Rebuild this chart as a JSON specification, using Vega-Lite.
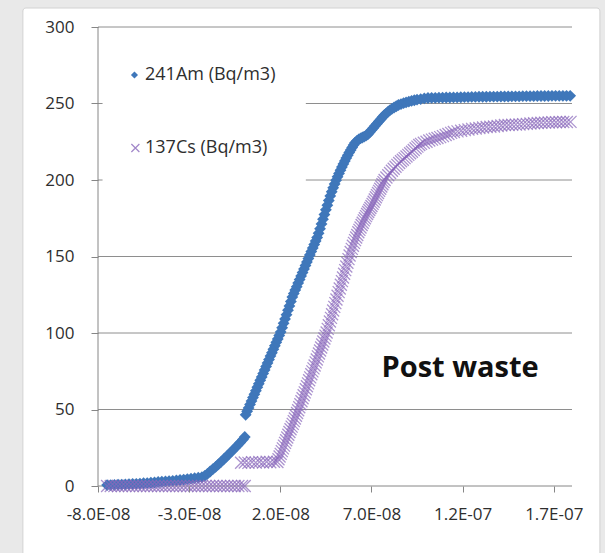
{
  "$schema": "https://vega.github.io/schema/vega-lite/v6.json",
  "width": 474,
  "height": 459,
  "autosize": {"type": "none"},
  "padding": {"left": 98, "top": 27, "right": 33, "bottom": 67},
  "background": "#e9e9e9",
  "config": {
    "view": {"stroke": null},
    "font": "Open Sans",
    "axis": {
      "domain": false,
      "grid": false,
      "tickColor": "#868686",
      "tickWidth": 1,
      "labelFont": "Open Sans",
      "labelFontSize": 17,
      "labelColor": "#2e2e2e",
      "labelFlush": false,
      "labelOverlap": false
    }
  },
  "datasets": {
    "am": [
      {"x": -7.5e-8, "y": 0.6}, {"x": -7.3e-8, "y": 0.6}, {"x": -7.1e-8, "y": 0.7}, {"x": -6.9e-8, "y": 0.8},
      {"x": -6.7e-8, "y": 0.9}, {"x": -6.5e-8, "y": 1.0}, {"x": -6.3e-8, "y": 1.2}, {"x": -6.1e-8, "y": 1.3},
      {"x": -5.9e-8, "y": 1.4}, {"x": -5.7e-8, "y": 1.6}, {"x": -5.5e-8, "y": 1.8}, {"x": -5.3e-8, "y": 1.9},
      {"x": -5.1e-8, "y": 2.1}, {"x": -4.9e-8, "y": 2.3}, {"x": -4.7e-8, "y": 2.6}, {"x": -4.5e-8, "y": 2.8},
      {"x": -4.3e-8, "y": 3.0}, {"x": -4.1e-8, "y": 3.2}, {"x": -3.9e-8, "y": 3.4}, {"x": -3.7e-8, "y": 3.6},
      {"x": -3.5e-8, "y": 3.9}, {"x": -3.3e-8, "y": 4.2}, {"x": -3.1e-8, "y": 4.5}, {"x": -2.9e-8, "y": 4.8},
      {"x": -2.7e-8, "y": 5.1}, {"x": -2.5e-8, "y": 5.4}, {"x": -2.3e-8, "y": 5.8}, {"x": -2.15e-8, "y": 6.6},
      {"x": -2.0e-8, "y": 7.9}, {"x": -1.85e-8, "y": 9.5}, {"x": -1.7e-8, "y": 11.0}, {"x": -1.55e-8, "y": 12.5},
      {"x": -1.4e-8, "y": 14.1}, {"x": -1.25e-8, "y": 15.8}, {"x": -1.1e-8, "y": 17.5}, {"x": -0.95e-8, "y": 19.2},
      {"x": -0.8e-8, "y": 21.0}, {"x": -0.65e-8, "y": 22.8}, {"x": -0.5e-8, "y": 24.6}, {"x": -0.35e-8, "y": 26.5},
      {"x": -0.2e-8, "y": 28.4}, {"x": -0.05e-8, "y": 30.4}, {"x": 0.05e-8, "y": 32.0},
      {"x": 0.10e-8, "y": 46.5}, {"x": 0.18e-8, "y": 48.8}, {"x": 0.26e-8, "y": 51.0}, {"x": 0.34e-8, "y": 53.3},
      {"x": 0.42e-8, "y": 55.5}, {"x": 0.50e-8, "y": 57.8}, {"x": 0.58e-8, "y": 60.0}, {"x": 0.66e-8, "y": 62.3},
      {"x": 0.74e-8, "y": 64.6}, {"x": 0.82e-8, "y": 66.8}, {"x": 0.90e-8, "y": 69.1}, {"x": 0.98e-8, "y": 71.3},
      {"x": 1.06e-8, "y": 73.6}, {"x": 1.14e-8, "y": 75.8}, {"x": 1.22e-8, "y": 78.1}, {"x": 1.30e-8, "y": 80.4},
      {"x": 1.38e-8, "y": 82.6}, {"x": 1.46e-8, "y": 84.9}, {"x": 1.54e-8, "y": 87.1}, {"x": 1.62e-8, "y": 89.4},
      {"x": 1.70e-8, "y": 91.6}, {"x": 1.78e-8, "y": 93.9}, {"x": 1.86e-8, "y": 96.1}, {"x": 1.94e-8, "y": 98.4},
      {"x": 2.02e-8, "y": 100.6}, {"x": 2.10e-8, "y": 103.5}, {"x": 2.18e-8, "y": 106.3}, {"x": 2.26e-8, "y": 109.2},
      {"x": 2.34e-8, "y": 112.0}, {"x": 2.42e-8, "y": 114.9}, {"x": 2.50e-8, "y": 117.7}, {"x": 2.58e-8, "y": 120.6},
      {"x": 2.66e-8, "y": 123.5}, {"x": 2.74e-8, "y": 125.8}, {"x": 2.82e-8, "y": 128.1}, {"x": 2.90e-8, "y": 130.3},
      {"x": 2.98e-8, "y": 132.6}, {"x": 3.06e-8, "y": 134.9}, {"x": 3.14e-8, "y": 137.2}, {"x": 3.22e-8, "y": 139.5},
      {"x": 3.30e-8, "y": 141.8}, {"x": 3.38e-8, "y": 144.1}, {"x": 3.46e-8, "y": 146.4}, {"x": 3.54e-8, "y": 148.7},
      {"x": 3.62e-8, "y": 151.0}, {"x": 3.70e-8, "y": 153.3}, {"x": 3.78e-8, "y": 155.5}, {"x": 3.86e-8, "y": 157.8},
      {"x": 3.94e-8, "y": 160.1}, {"x": 4.02e-8, "y": 162.4}, {"x": 4.10e-8, "y": 165.2}, {"x": 4.18e-8, "y": 168.2},
      {"x": 4.26e-8, "y": 171.3}, {"x": 4.34e-8, "y": 174.4}, {"x": 4.42e-8, "y": 177.4}, {"x": 4.50e-8, "y": 180.5},
      {"x": 4.58e-8, "y": 183.5}, {"x": 4.66e-8, "y": 186.6}, {"x": 4.74e-8, "y": 189.6}, {"x": 4.82e-8, "y": 192.3},
      {"x": 4.90e-8, "y": 194.9}, {"x": 4.98e-8, "y": 197.4}, {"x": 5.06e-8, "y": 199.8}, {"x": 5.14e-8, "y": 202.1},
      {"x": 5.22e-8, "y": 204.3}, {"x": 5.30e-8, "y": 206.4}, {"x": 5.38e-8, "y": 208.5}, {"x": 5.46e-8, "y": 210.5},
      {"x": 5.54e-8, "y": 212.4}, {"x": 5.62e-8, "y": 214.3}, {"x": 5.70e-8, "y": 216.1}, {"x": 5.78e-8, "y": 217.9},
      {"x": 5.86e-8, "y": 219.6}, {"x": 5.94e-8, "y": 221.3}, {"x": 6.02e-8, "y": 222.9}, {"x": 6.10e-8, "y": 224.4},
      {"x": 6.20e-8, "y": 225.5}, {"x": 6.30e-8, "y": 226.5}, {"x": 6.40e-8, "y": 227.2}, {"x": 6.50e-8, "y": 227.8},
      {"x": 6.60e-8, "y": 228.4}, {"x": 6.70e-8, "y": 229.0}, {"x": 6.80e-8, "y": 229.8}, {"x": 6.90e-8, "y": 231.2},
      {"x": 7.00e-8, "y": 232.6}, {"x": 7.10e-8, "y": 234.0}, {"x": 7.20e-8, "y": 235.4}, {"x": 7.30e-8, "y": 236.8},
      {"x": 7.40e-8, "y": 238.2}, {"x": 7.50e-8, "y": 239.6}, {"x": 7.60e-8, "y": 241.0}, {"x": 7.70e-8, "y": 242.3},
      {"x": 7.80e-8, "y": 243.4}, {"x": 7.90e-8, "y": 244.5}, {"x": 8.00e-8, "y": 245.5}, {"x": 8.12e-8, "y": 246.5},
      {"x": 8.24e-8, "y": 247.4}, {"x": 8.36e-8, "y": 248.2}, {"x": 8.48e-8, "y": 249.0}, {"x": 8.62e-8, "y": 249.6},
      {"x": 8.76e-8, "y": 250.2}, {"x": 8.90e-8, "y": 250.7}, {"x": 9.05e-8, "y": 251.2}, {"x": 9.20e-8, "y": 251.7},
      {"x": 9.35e-8, "y": 252.1}, {"x": 9.50e-8, "y": 252.5}, {"x": 9.70e-8, "y": 252.9}, {"x": 9.90e-8, "y": 253.3},
      {"x": 10.1e-8, "y": 253.6}, {"x": 10.3e-8, "y": 253.7}, {"x": 10.5e-8, "y": 253.7}, {"x": 10.7e-8, "y": 253.8},
      {"x": 10.9e-8, "y": 253.8}, {"x": 11.1e-8, "y": 253.9}, {"x": 11.3e-8, "y": 253.9}, {"x": 11.5e-8, "y": 254.0},
      {"x": 11.7e-8, "y": 254.0}, {"x": 11.9e-8, "y": 254.1}, {"x": 12.1e-8, "y": 254.2}, {"x": 12.3e-8, "y": 254.2},
      {"x": 12.5e-8, "y": 254.3}, {"x": 12.7e-8, "y": 254.3}, {"x": 12.9e-8, "y": 254.4}, {"x": 13.1e-8, "y": 254.4},
      {"x": 13.3e-8, "y": 254.4}, {"x": 13.5e-8, "y": 254.5}, {"x": 13.7e-8, "y": 254.5}, {"x": 13.9e-8, "y": 254.5},
      {"x": 14.1e-8, "y": 254.6}, {"x": 14.3e-8, "y": 254.6}, {"x": 14.5e-8, "y": 254.6}, {"x": 14.7e-8, "y": 254.7},
      {"x": 14.9e-8, "y": 254.7}, {"x": 15.1e-8, "y": 254.7}, {"x": 15.3e-8, "y": 254.8}, {"x": 15.5e-8, "y": 254.8},
      {"x": 15.7e-8, "y": 254.8}, {"x": 15.9e-8, "y": 254.8}, {"x": 16.1e-8, "y": 254.9}, {"x": 16.3e-8, "y": 254.9},
      {"x": 16.5e-8, "y": 254.9}, {"x": 16.7e-8, "y": 254.9}, {"x": 16.9e-8, "y": 255.0}, {"x": 17.1e-8, "y": 255.0},
      {"x": 17.3e-8, "y": 255.0}, {"x": 17.5e-8, "y": 255.0}, {"x": 17.7e-8, "y": 255.0}, {"x": 17.9e-8, "y": 255.0}
    ],
    "cs": [
      {"x": -7.5e-8, "y": 0}, {"x": -7.3e-8, "y": 0}, {"x": -7.1e-8, "y": 0}, {"x": -6.9e-8, "y": 0},
      {"x": -6.7e-8, "y": 0}, {"x": -6.5e-8, "y": 0}, {"x": -6.3e-8, "y": 0}, {"x": -6.1e-8, "y": 0},
      {"x": -5.9e-8, "y": 0}, {"x": -5.7e-8, "y": 0}, {"x": -5.5e-8, "y": 0}, {"x": -5.3e-8, "y": 0},
      {"x": -5.1e-8, "y": 0}, {"x": -4.9e-8, "y": 0}, {"x": -4.7e-8, "y": 0}, {"x": -4.5e-8, "y": 0},
      {"x": -4.3e-8, "y": 0}, {"x": -4.1e-8, "y": 0}, {"x": -3.9e-8, "y": 0}, {"x": -3.7e-8, "y": 0},
      {"x": -3.5e-8, "y": 0}, {"x": -3.3e-8, "y": 0}, {"x": -3.1e-8, "y": 0}, {"x": -2.9e-8, "y": 0},
      {"x": -2.7e-8, "y": 0}, {"x": -2.5e-8, "y": 0}, {"x": -2.3e-8, "y": 0}, {"x": -2.1e-8, "y": 0},
      {"x": -1.9e-8, "y": 0}, {"x": -1.7e-8, "y": 0}, {"x": -1.5e-8, "y": 0}, {"x": -1.3e-8, "y": 0},
      {"x": -1.1e-8, "y": 0}, {"x": -0.9e-8, "y": 0}, {"x": -0.7e-8, "y": 0}, {"x": -0.5e-8, "y": 0},
      {"x": -0.3e-8, "y": 0}, {"x": -0.1e-8, "y": 0}, {"x": 0.05e-8, "y": 0},
      {"x": -0.15e-8, "y": 15.2}, {"x": 0.05e-8, "y": 15.4}, {"x": 0.25e-8, "y": 15.1}, {"x": 0.45e-8, "y": 15.6},
      {"x": 0.65e-8, "y": 15.3}, {"x": 0.85e-8, "y": 15.7}, {"x": 1.05e-8, "y": 15.4}, {"x": 1.25e-8, "y": 15.8},
      {"x": 1.45e-8, "y": 15.5}, {"x": 1.65e-8, "y": 15.9},
      {"x": 1.84e-8, "y": 15.7}, {"x": 1.90e-8, "y": 17.5}, {"x": 1.96e-8, "y": 19.3}, {"x": 2.02e-8, "y": 21.0},
      {"x": 2.08e-8, "y": 22.8}, {"x": 2.14e-8, "y": 24.6}, {"x": 2.20e-8, "y": 26.4}, {"x": 2.26e-8, "y": 28.2},
      {"x": 2.32e-8, "y": 29.9}, {"x": 2.38e-8, "y": 31.7}, {"x": 2.44e-8, "y": 33.5}, {"x": 2.50e-8, "y": 35.3},
      {"x": 2.56e-8, "y": 37.1}, {"x": 2.62e-8, "y": 38.8}, {"x": 2.68e-8, "y": 40.6}, {"x": 2.74e-8, "y": 42.4},
      {"x": 2.80e-8, "y": 44.1}, {"x": 2.86e-8, "y": 45.9}, {"x": 2.92e-8, "y": 47.7}, {"x": 2.98e-8, "y": 49.5},
      {"x": 3.04e-8, "y": 51.5}, {"x": 3.10e-8, "y": 53.4}, {"x": 3.16e-8, "y": 55.4}, {"x": 3.22e-8, "y": 57.3},
      {"x": 3.28e-8, "y": 59.3}, {"x": 3.34e-8, "y": 61.2}, {"x": 3.40e-8, "y": 63.2}, {"x": 3.46e-8, "y": 65.2},
      {"x": 3.52e-8, "y": 67.1}, {"x": 3.58e-8, "y": 69.1}, {"x": 3.64e-8, "y": 71.0}, {"x": 3.70e-8, "y": 73.0},
      {"x": 3.76e-8, "y": 74.9}, {"x": 3.82e-8, "y": 76.9}, {"x": 3.88e-8, "y": 78.8}, {"x": 3.94e-8, "y": 80.8},
      {"x": 4.00e-8, "y": 82.7}, {"x": 4.06e-8, "y": 84.7}, {"x": 4.12e-8, "y": 86.6}, {"x": 4.18e-8, "y": 88.6},
      {"x": 4.24e-8, "y": 90.5}, {"x": 4.30e-8, "y": 92.5}, {"x": 4.36e-8, "y": 94.4}, {"x": 4.42e-8, "y": 96.4},
      {"x": 4.48e-8, "y": 98.3}, {"x": 4.54e-8, "y": 100.3}, {"x": 4.60e-8, "y": 102.7}, {"x": 4.66e-8, "y": 105.1},
      {"x": 4.72e-8, "y": 107.5}, {"x": 4.78e-8, "y": 109.9}, {"x": 4.84e-8, "y": 112.3}, {"x": 4.90e-8, "y": 114.7},
      {"x": 4.96e-8, "y": 117.1}, {"x": 5.02e-8, "y": 119.5}, {"x": 5.08e-8, "y": 121.9}, {"x": 5.14e-8, "y": 124.3},
      {"x": 5.20e-8, "y": 126.7}, {"x": 5.26e-8, "y": 129.1}, {"x": 5.32e-8, "y": 131.5}, {"x": 5.38e-8, "y": 133.9},
      {"x": 5.44e-8, "y": 136.3}, {"x": 5.50e-8, "y": 138.7}, {"x": 5.56e-8, "y": 141.1}, {"x": 5.62e-8, "y": 143.5},
      {"x": 5.68e-8, "y": 145.9}, {"x": 5.74e-8, "y": 148.3}, {"x": 5.80e-8, "y": 150.6}, {"x": 5.86e-8, "y": 152.9},
      {"x": 5.92e-8, "y": 155.0}, {"x": 5.98e-8, "y": 157.0}, {"x": 6.04e-8, "y": 158.9}, {"x": 6.10e-8, "y": 160.7},
      {"x": 6.16e-8, "y": 162.4}, {"x": 6.22e-8, "y": 164.1}, {"x": 6.28e-8, "y": 165.8}, {"x": 6.34e-8, "y": 167.4},
      {"x": 6.40e-8, "y": 169.0}, {"x": 6.46e-8, "y": 170.6}, {"x": 6.52e-8, "y": 172.1}, {"x": 6.58e-8, "y": 173.6},
      {"x": 6.64e-8, "y": 175.0}, {"x": 6.70e-8, "y": 176.4}, {"x": 6.76e-8, "y": 177.8}, {"x": 6.82e-8, "y": 179.1},
      {"x": 6.88e-8, "y": 180.4}, {"x": 6.94e-8, "y": 181.7}, {"x": 7.00e-8, "y": 183.0}, {"x": 7.06e-8, "y": 184.4},
      {"x": 7.12e-8, "y": 185.8}, {"x": 7.18e-8, "y": 187.2}, {"x": 7.24e-8, "y": 188.7}, {"x": 7.30e-8, "y": 190.1},
      {"x": 7.36e-8, "y": 191.5}, {"x": 7.42e-8, "y": 192.9}, {"x": 7.48e-8, "y": 194.3}, {"x": 7.54e-8, "y": 195.8},
      {"x": 7.60e-8, "y": 197.2}, {"x": 7.66e-8, "y": 198.6}, {"x": 7.72e-8, "y": 200.0}, {"x": 7.82e-8, "y": 201.6},
      {"x": 7.92e-8, "y": 203.1}, {"x": 8.02e-8, "y": 204.6}, {"x": 8.12e-8, "y": 206.0}, {"x": 8.22e-8, "y": 207.4},
      {"x": 8.32e-8, "y": 208.7}, {"x": 8.42e-8, "y": 209.9}, {"x": 8.52e-8, "y": 211.1}, {"x": 8.62e-8, "y": 212.2},
      {"x": 8.72e-8, "y": 213.2}, {"x": 8.82e-8, "y": 214.3}, {"x": 8.92e-8, "y": 215.4}, {"x": 9.02e-8, "y": 216.4},
      {"x": 9.12e-8, "y": 217.5}, {"x": 9.22e-8, "y": 218.5}, {"x": 9.32e-8, "y": 219.6}, {"x": 9.42e-8, "y": 220.7},
      {"x": 9.52e-8, "y": 221.8}, {"x": 9.62e-8, "y": 222.9}, {"x": 9.72e-8, "y": 223.6}, {"x": 9.87e-8, "y": 224.3},
      {"x": 10.02e-8, "y": 225.0}, {"x": 10.17e-8, "y": 225.8}, {"x": 10.32e-8, "y": 226.4}, {"x": 10.47e-8, "y": 227.0},
      {"x": 10.62e-8, "y": 227.5}, {"x": 10.77e-8, "y": 228.0}, {"x": 10.92e-8, "y": 228.7}, {"x": 11.07e-8, "y": 229.4},
      {"x": 11.22e-8, "y": 230.1}, {"x": 11.37e-8, "y": 230.8}, {"x": 11.52e-8, "y": 231.4}, {"x": 11.72e-8, "y": 231.8},
      {"x": 11.92e-8, "y": 232.2}, {"x": 12.12e-8, "y": 232.6}, {"x": 12.32e-8, "y": 233.0}, {"x": 12.52e-8, "y": 233.4},
      {"x": 12.72e-8, "y": 233.7}, {"x": 12.92e-8, "y": 234.0}, {"x": 13.12e-8, "y": 234.3}, {"x": 13.32e-8, "y": 234.6},
      {"x": 13.52e-8, "y": 234.8}, {"x": 13.72e-8, "y": 235.0}, {"x": 13.92e-8, "y": 235.3}, {"x": 14.12e-8, "y": 235.6},
      {"x": 14.32e-8, "y": 235.9}, {"x": 14.52e-8, "y": 236.0}, {"x": 14.72e-8, "y": 236.1}, {"x": 14.92e-8, "y": 236.2},
      {"x": 15.12e-8, "y": 236.3}, {"x": 15.32e-8, "y": 236.5}, {"x": 15.52e-8, "y": 236.7}, {"x": 15.72e-8, "y": 236.9},
      {"x": 15.92e-8, "y": 237.1}, {"x": 16.12e-8, "y": 237.2}, {"x": 16.32e-8, "y": 237.4}, {"x": 16.52e-8, "y": 237.5},
      {"x": 16.72e-8, "y": 237.6}, {"x": 16.92e-8, "y": 237.7}, {"x": 17.12e-8, "y": 237.8}, {"x": 17.32e-8, "y": 237.9},
      {"x": 17.52e-8, "y": 237.9}, {"x": 17.72e-8, "y": 237.9}, {"x": 17.92e-8, "y": 238.0}
    ],
    "grid": [
      {"y": 300, "x": -8e-8, "x2": 1.8e-7},
      {"y": 250, "x": -8e-8, "x2": -7.75e-8},
      {"y": 250, "x": 3.4e-8, "x2": 1.8e-7},
      {"y": 200, "x": -8e-8, "x2": -7.75e-8},
      {"y": 200, "x": 3.4e-8, "x2": 1.8e-7},
      {"y": 150, "x": -8e-8, "x2": 1.8e-7},
      {"y": 100, "x": -8e-8, "x2": 1.8e-7},
      {"y": 50, "x": -8e-8, "x2": 1.8e-7}
    ]
  },
  "layer": [
    {
      "data": {"values": [{}]},
      "mark": {"type": "rect", "fill": "#ffffff", "stroke": "#d2d2d2", "strokeWidth": 1, "cornerRadius": 3},
      "encoding": {
        "x": {
          "datum": -1.212e-7,
          "type": "quantitative",
          "title": null,
          "scale": {"domain": [-8e-8, 1.8e-7], "nice": false, "zero": false},
          "axis": {
            "values": [-8e-8, -3e-8, 2e-8, 7e-8, 1.2e-7, 1.7e-7],
            "labelExpr": "replace(replace(format(datum.value, '.1e'), 'e-', 'E-0'), '\u2212', '-')",
            "tickSize": 6,
            "labelPadding": 14,
            "zindex": 2
          }
        },
        "x2": {"datum": 1.953e-7},
        "y": {
          "datum": 312.4,
          "type": "quantitative",
          "title": null,
          "scale": {"domain": [0, 300], "nice": false, "zero": true},
          "axis": {"values": [0, 50, 100, 150, 200, 250, 300], "tickSize": 7, "labelPadding": 17, "zindex": 2}
        },
        "y2": {"datum": -48}
      }
    },
    {
      "data": {"name": "grid"},
      "mark": {"type": "rule", "color": "#8e8e8e", "strokeWidth": 1},
      "encoding": {
        "x": {"field": "x", "type": "quantitative", "title": null},
        "x2": {"field": "x2"},
        "y": {"field": "y", "type": "quantitative", "title": null}
      }
    },
    {
      "data": {"values": [{}]},
      "mark": {"type": "rule", "color": "#868686", "strokeWidth": 1},
      "encoding": {
        "x": {"datum": -8e-8, "type": "quantitative", "title": null},
        "x2": {"datum": 1.8e-7},
        "y": {"datum": 0, "type": "quantitative", "title": null}
      }
    },
    {
      "data": {"values": [{}]},
      "mark": {"type": "rule", "color": "#868686", "strokeWidth": 1},
      "encoding": {
        "x": {"datum": -8e-8, "type": "quantitative", "title": null},
        "y": {"datum": 0, "type": "quantitative", "title": null},
        "y2": {"datum": 300}
      }
    },
    {
      "data": {"name": "am"},
      "mark": {"type": "point", "shape": "diamond", "filled": true, "size": 140, "color": "#3f77ba", "opacity": 1},
      "encoding": {
        "x": {"field": "x", "type": "quantitative", "title": null},
        "y": {"field": "y", "type": "quantitative", "title": null}
      }
    },
    {
      "data": {"name": "cs"},
      "mark": {"type": "point", "shape": "M-1,-1L1,1M-1,1L1,-1", "filled": false, "size": 144, "color": "#8a68bc", "strokeWidth": 1.3, "opacity": 0.7},
      "encoding": {
        "x": {"field": "x", "type": "quantitative", "title": null},
        "y": {"field": "y", "type": "quantitative", "title": null}
      }
    },
    {
      "data": {"values": [{}]},
      "mark": {"type": "point", "shape": "diamond", "filled": true, "size": 50, "color": "#3f77ba", "opacity": 1},
      "encoding": {
        "x": {"datum": -6.0e-8, "type": "quantitative", "title": null},
        "y": {"datum": 268.6, "type": "quantitative", "title": null}
      }
    },
    {
      "data": {"values": [{}]},
      "mark": {"type": "text", "text": "241Am (Bq/m3)", "align": "left", "baseline": "middle", "font": "Open Sans", "fontSize": 18, "color": "#2e2e2e"},
      "encoding": {
        "x": {"datum": -5.42e-8, "type": "quantitative", "title": null},
        "y": {"datum": 268.6, "type": "quantitative", "title": null}
      }
    },
    {
      "data": {"values": [{}]},
      "mark": {"type": "point", "shape": "M-1,-1L1,1M-1,1L1,-1", "filled": false, "size": 64, "color": "#8a68bc", "strokeWidth": 1.2, "opacity": 0.8},
      "encoding": {
        "x": {"datum": -5.95e-8, "type": "quantitative", "title": null},
        "y": {"datum": 220.9, "type": "quantitative", "title": null}
      }
    },
    {
      "data": {"values": [{}]},
      "mark": {"type": "text", "text": "137Cs (Bq/m3)", "align": "left", "baseline": "middle", "font": "Open Sans", "fontSize": 18, "color": "#2e2e2e"},
      "encoding": {
        "x": {"datum": -5.42e-8, "type": "quantitative", "title": null},
        "y": {"datum": 220.9, "type": "quantitative", "title": null}
      }
    },
    {
      "data": {"values": [{}]},
      "mark": {"type": "text", "text": "Post waste", "align": "center", "baseline": "alphabetic", "font": "Open Sans", "fontSize": 29, "fontWeight": "bold", "color": "#111111"},
      "encoding": {
        "x": {"datum": 1.186e-7, "type": "quantitative", "title": null},
        "y": {"datum": 71.5, "type": "quantitative", "title": null}
      }
    }
  ]
}
